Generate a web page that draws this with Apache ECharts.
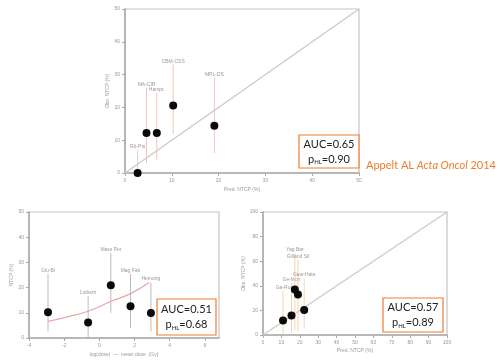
<!DOCTYPE html>
<html><head><meta charset="utf-8">
<script src="https://cdn.jsdelivr.net/npm/echarts@6/dist/echarts.min.js"></script>
<style>html,body{margin:0;padding:0;background:#fff}#c{width:502px;height:360px}</style>
</head><body><div id="c"></div>
<script>
// ---- Top panel (observed vs predicted) ----
const topX = [2.7, 4.6, 6.8, 10.3, 19.1];
const topY = [0, 12.2, 12.2, 20.6, 14.4];
const topLo = [0, 3, 4, 12, 6];
const topHi = [7, 26, 24.5, 33, 29];
const topLabels = ['Rö-Pts', 'MA-CIR', 'Hampt.', 'CBM-CSS', 'MPL-DS'];
const topDiag = [[0, 0], [50, 50]];

// ---- Bottom-left panel (NTCP vs covariate, with fitted curve) ----
const blX = [-2.92, -0.64, 0.65, 1.77, 2.93];
const blY = [10.2, 6.2, 20.9, 12.6, 9.9];
const blLo = [2.6, 0.4, 10, 4, 2.6];
const blHi = [25.5, 16.5, 33.7, 25.5, 22];
const blLabels = ['Glu-Bi', 'Lisbeth', 'Mass Pet', 'Mag Fab', 'Hemorig'];
const blCurveX = [-2.92, -1.87, -0.64, 0.65, 1.77, 2.83];
const blCurveY = [6.6, 8.3, 10.6, 14.5, 17.6, 22.0];

// ---- Bottom-right panel (observed vs predicted) ----
const brX = [10.9, 15.5, 17.3, 19.0, 22.4];
const brY = [11.7, 15.8, 37, 33, 20.4];
const brLo = [1, 2, 4, 3, 5];
const brHi = [36, 42.5, 66.5, 61, 46];
const brLabels = ['Ga-Ro', 'Ge-Mon', 'Yag Bar', 'Gilland Sil', 'Gaw-Hate'];
const brDiag = [[0, 0], [100, 100]];

// ---- Tick settings ----
const topTicks = {min: 0, max: 50, interval: 10};
const blXTicks = {min: -4, max: 6.8, interval: 2};
const blYTicks = {min: 0, max: 50, interval: 10};
const brXTicks = {min: 0, max: 100, interval: 10};
const brYTicks = {min: 0, max: 100, interval: 20};

const gray = '#aaa';
function axisCommon(idx, t, name, gap, isY) {
  return {
    type: 'value', gridIndex: idx, min: t.min, max: t.max, interval: t.interval,
    name: name, nameLocation: 'middle', nameGap: gap, nameRotate: isY ? 90 : 0,
    nameTextStyle: {fontSize: 5, color: '#999'},
    axisLine: {show: true, onZero: false, lineStyle: {color: gray, width: 1.5}},
    axisTick: {show: true, length: 3, lineStyle: {color: gray}},
    axisLabel: {fontSize: 5, color: '#999', margin: 5, showMaxLabel: t.max % t.interval === 0},
    splitLine: {show: false}
  };
}
function zipXY(xs, ys) { return xs.map((x, i) => [x, ys[i]]); }
function errSeries(idx, xs, lo, hi, labels, color) {
  return {
    type: 'custom', xAxisIndex: idx, yAxisIndex: idx, z: 1,
    data: xs.map((x, i) => [x, lo[i], hi[i]]),
    encode: {x: 0, y: [1, 2]},
    renderItem: function (params, api) {
      const a = api.coord([api.value(0), api.value(1)]);
      const b = api.coord([api.value(0), api.value(2)]);
      return {type: 'group', children: [
        {type: 'line', shape: {x1: a[0], y1: a[1], x2: b[0], y2: b[1]}, style: {stroke: color, lineWidth: 1}},
        {type: 'text', style: {text: labels[params.dataIndex], x: b[0], y: b[1] - 1, align: 'center', verticalAlign: 'bottom', fontSize: 5, fill: '#999'}}
      ]};
    }
  };
}
function dots(idx, xs, ys) {
  return {type: 'scatter', xAxisIndex: idx, yAxisIndex: idx, z: 3, symbolSize: 8,
    itemStyle: {color: '#0a0a0a', opacity: 1}, data: zipXY(xs, ys)};
}
function diag(idx, d) {
  return {type: 'line', xAxisIndex: idx, yAxisIndex: idx, z: 0, symbol: 'none', data: d,
    lineStyle: {color: '#ccc', width: 1.5}};
}
function aucBox(x, y, w, h, auc, p) {
  return {type: 'group', children: [
    {type: 'rect', shape: {x: x, y: y, width: w, height: h}, style: {fill: '#fff', stroke: '#ED7D31', lineWidth: 1.2}, z: 10},
    {type: 'text', z: 11, style: {
      x: x + w / 2, y: y + h / 2, align: 'center', verticalAlign: 'middle',
      text: '{n|AUC=' + auc + '}\n{n|p}{s|HL}{n|=' + p + '}',
      rich: {n: {fontSize: 11, fontFamily: 'Lato', fill: '#222', lineHeight: 15},
             s: {fontSize: 6, fontFamily: 'Lato', fill: '#222', lineHeight: 15, verticalAlign: 'bottom', padding: [0, 0, 1, 0]}}
    }}
  ]};
}

const chart = echarts.init(document.getElementById('c'), null, {renderer: 'canvas'});
chart.setOption({
  animation: false,
  backgroundColor: '#fff',
  grid: [
    {left: 125, top: 9, width: 234, height: 164, show: true, borderColor: '#c4c4c4', borderWidth: 1.2},
    {left: 29, top: 212, width: 190, height: 126, show: true, borderColor: '#c4c4c4', borderWidth: 1.2},
    {left: 263, top: 212, width: 184, height: 123, show: true, borderColor: '#c4c4c4', borderWidth: 1.2}
  ],
  xAxis: [
    axisCommon(0, topTicks, 'Pred. NTCP (%)', 14, false),
    axisCommon(1, blXTicks, 'log(dose)  —  mean dose  (Gy)', 14, false),
    axisCommon(2, brXTicks, 'Pred. NTCP (%)', 13, false)
  ],
  yAxis: [
    axisCommon(0, topTicks, 'Obs. NTCP (%)', 14, true),
    axisCommon(1, blYTicks, 'NTCP (%)', 14, true),
    axisCommon(2, brYTicks, 'Obs. NTCP (%)', 12, true)
  ],
  series: [
    diag(0, topDiag),
    errSeries(0, topX, topLo, topHi, topLabels, '#f2c4ba'),
    dots(0, topX, topY),
    {type: 'line', xAxisIndex: 1, yAxisIndex: 1, z: 2, symbol: 'none', smooth: true,
      data: zipXY(blCurveX, blCurveY), lineStyle: {color: '#e8a6a6', width: 1.2}},
    errSeries(1, blX, blLo, blHi, blLabels, '#bbbbbb'),
    dots(1, blX, blY),
    diag(2, brDiag),
    errSeries(2, brX, brLo, brHi, brLabels, '#f5d3ac'),
    dots(2, brX, brY)
  ],
  graphic: [
    aucBox(299, 135, 60, 33, '0.65', '0.90'),
    aucBox(157, 299, 59, 36, '0.51', '0.68'),
    aucBox(383, 298, 60, 34, '0.57', '0.89'),
    {type: 'text', z: 11, style: {x: 366, y: 165, verticalAlign: 'middle',
      text: '{a|Appelt AL }{i|Acta Oncol}{a| 2014}',
      rich: {a: {fontSize: 11, fontFamily: 'Lato', fill: '#ED7D31'},
             i: {fontSize: 11, fontFamily: 'Lato', fontStyle: 'italic', fill: '#ED7D31'}}}}
  ]
});
</script></body></html>
